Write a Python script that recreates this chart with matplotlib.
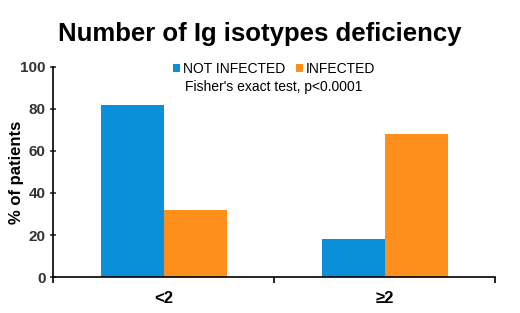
import numpy as np
import matplotlib.pyplot as plt

plt.rcParams['font.family'] = ['Liberation Sans', 'DejaVu Sans']

# Data
categories = ['<2', '≥2']
not_infected = [82, 18]
infected = [32, 68]

blue = '#0a90d8'
orange = '#ff8f1c'

fig = plt.figure(figsize=(5.2, 3.13), dpi=100)
ax = fig.add_axes([0.102, 0.115, 0.850, 0.671])

x = np.arange(len(categories))
w = 0.285
ax.bar(x - w/2, not_infected, w, color=blue, label='NOT INFECTED')
ax.bar(x + w/2, infected, w, color=orange, label='INFECTED')

ax.set_xlim(-0.5, 1.5)
ax.set_ylim(0, 100)
ax.set_yticks(range(0, 101, 20))
ax.set_xticks(x)
ax.set_xticklabels(categories, fontweight='bold', fontsize=12)
ax.set_xticks([-0.5, 0.5, 1.5], minor=True)
ax.tick_params(axis='x', which='major', length=0, pad=10)
ax.tick_params(axis='x', which='minor', length=4, direction='out', width=1.2)
ax.tick_params(axis='y', length=4, direction='inout', width=1.2, labelsize=11, colors='#333333')
for lbl in ax.get_yticklabels():
    lbl.set_fontweight('bold')
ax.set_ylabel('% of patients', fontweight='bold', fontsize=12)
ax.yaxis.set_label_coords(-0.066, 0.5)

for s in ['top', 'right']:
    ax.spines[s].set_visible(False)
ax.spines['left'].set_linewidth(1.2)
ax.spines['bottom'].set_linewidth(1.2)

leg = ax.legend(loc='center', bbox_to_anchor=(0.5, 0.99), ncol=2, frameon=False,
                fontsize=10, handlelength=0.5, handleheight=0.5, handletextpad=0.2,
                columnspacing=0.8, borderpad=0)
ax.text(0.5, 0.905, "Fisher's exact test, p<0.0001", transform=ax.transAxes,
        ha='center', va='center', fontsize=10)

fig.text(0.5, 0.89, 'Number of Ig isotypes deficiency', ha='center', va='center',
         fontsize=18.5, fontweight='bold')

plt.savefig('out.png', dpi=100)
